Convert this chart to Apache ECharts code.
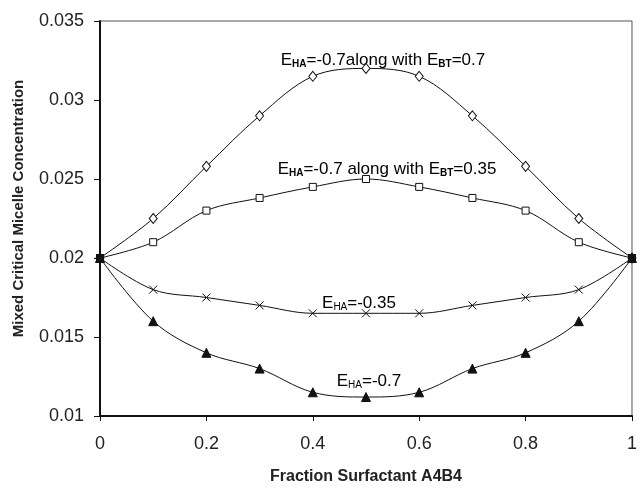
<!DOCTYPE html>
<html>
<head>
<meta charset="utf-8">
<script src="https://cdn.jsdelivr.net/npm/echarts@6/dist/echarts.min.js"></script>
<style>
  html, body { margin: 0; padding: 0; background: #fff; }
  #chart { width: 640px; height: 490px; }
</style>
</head>
<body>
<div id="chart"></div>
<script>
// fraction of surfactant A4B4
const fractions = [0, 0.1, 0.2, 0.3, 0.4, 0.5, 0.6, 0.7, 0.8, 0.9, 1]

// mixed CMC for each interaction case
const ha07bt07 = [0.02, 0.0225, 0.0258, 0.029, 0.0315, 0.032, 0.0315, 0.029, 0.0258, 0.0225, 0.02]
const ha07bt035 = [0.02, 0.021, 0.023, 0.0238, 0.0245, 0.025, 0.0245, 0.0238, 0.023, 0.021, 0.02]
const ha035 = [0.02, 0.018, 0.0175, 0.017, 0.0165, 0.0165, 0.0165, 0.017, 0.0175, 0.018, 0.02]
const ha07 = [0.02, 0.016, 0.014, 0.013, 0.0115, 0.0112, 0.0115, 0.013, 0.014, 0.016, 0.02]

const FONT = 'Liberation Sans, Arial, sans-serif'
const CROSS = 'path://M0,0L10,10M10,0L0,10'

const chart = echarts.init(document.getElementById('chart'))

const toPoints = (vals, endStyle) =>
  vals.map((v, i) => {
    if (endStyle && (i === 0 || i === vals.length - 1)) {
      return { value: [fractions[i], v], itemStyle: endStyle }
    }
    return [fractions[i], v]
  })

const baseSeries = {
  type: 'line',
  smooth: 0.35,
  showAllSymbol: true,
  lineStyle: { color: '#111', width: 1 },
  emphasis: { disabled: true }
}

// label with subscripts, e.g. E_HA
const rich = (bold) => ({
  e: { fontSize: 17, fontFamily: FONT, color: '#111', lineHeight: 20, verticalAlign: 'bottom' },
  s: {
    fontSize: 10,
    fontWeight: bold ? 'bold' : 'normal',
    fontFamily: FONT,
    color: '#111',
    lineHeight: 20,
    verticalAlign: 'bottom'
  }
})

const label = (x, y, text, bold) => ({
  type: 'text',
  x: x,
  y: y,
  style: {
    text: text,
    rich: rich(bold),
    align: 'center',
    verticalAlign: 'middle'
  }
})

const option = {
  animation: false,
  backgroundColor: '#fff',
  grid: {
    left: 100,
    right: 3,
    top: 21,
    bottom: 66,
    show: true,
    borderColor: '#555',
    borderWidth: 1
  },
  xAxis: {
    type: 'value',
    min: 0,
    max: 1,
    interval: 0.2,
    name: 'Fraction Surfactant A4B4',
    nameLocation: 'middle',
    nameGap: 53,
    nameTextStyle: { fontFamily: FONT, fontWeight: 'bold', fontSize: 16, color: '#222' },
    axisLine: { lineStyle: { color: '#111', width: 2 } },
    axisTick: { length: 5, lineStyle: { color: '#111' } },
    axisLabel: { fontFamily: FONT, fontSize: 18, color: '#222', margin: 19 },
    splitLine: { show: false }
  },
  yAxis: {
    type: 'value',
    min: 0.01,
    max: 0.035,
    interval: 0.005,
    name: 'Mixed Critical Micelle Concentration',
    nameLocation: 'middle',
    nameGap: 74,
    nameRotate: 90,
    nameTextStyle: {
      fontFamily: FONT,
      fontWeight: 'bold',
      fontSize: 15,
      color: '#222',
      padding: [0, 0, 0, 20]
    },
    axisLine: { show: true, lineStyle: { color: '#111', width: 2 } },
    axisTick: { show: true, length: 6, lineStyle: { color: '#111' } },
    axisLabel: { fontFamily: FONT, fontSize: 18, color: '#222', margin: 16 },
    splitLine: { show: false }
  },
  series: [
    {
      ...baseSeries,
      name: 'EHA=-0.7 along with EBT=0.7',
      symbol: 'diamond',
      symbolSize: [8, 10],
      itemStyle: { color: '#fff', borderColor: '#111', borderWidth: 1 },
      data: toPoints(ha07bt07)
    },
    {
      ...baseSeries,
      name: 'EHA=-0.7 along with EBT=0.35',
      symbol: 'rect',
      symbolSize: 7,
      itemStyle: { color: '#fff', borderColor: '#111', borderWidth: 1 },
      data: toPoints(ha07bt035, { color: '#111', borderColor: '#111' })
    },
    {
      ...baseSeries,
      name: 'EHA=-0.35',
      symbol: CROSS,
      symbolSize: 8,
      itemStyle: { color: 'none', borderColor: '#111', borderWidth: 1 },
      data: toPoints(ha035)
    },
    {
      ...baseSeries,
      name: 'EHA=-0.7',
      symbol: 'triangle',
      symbolSize: 9,
      itemStyle: { color: '#111', borderColor: '#111', borderWidth: 1 },
      data: toPoints(ha07)
    }
  ],
  graphic: [
    label(383, 59, '{e|E}{s|HA}{e|=-0.7along with E}{s|BT}{e|=0.7}', true),
    label(387, 168, '{e|E}{s|HA}{e|=-0.7 along with E}{s|BT}{e|=0.35}', true),
    label(359, 302, '{e|E}{s|HA}{e|=-0.35}', false),
    label(369, 380, '{e|E}{s|HA}{e|=-0.7}', false)
  ]
}

chart.setOption(option)
</script>
</body>
</html>
